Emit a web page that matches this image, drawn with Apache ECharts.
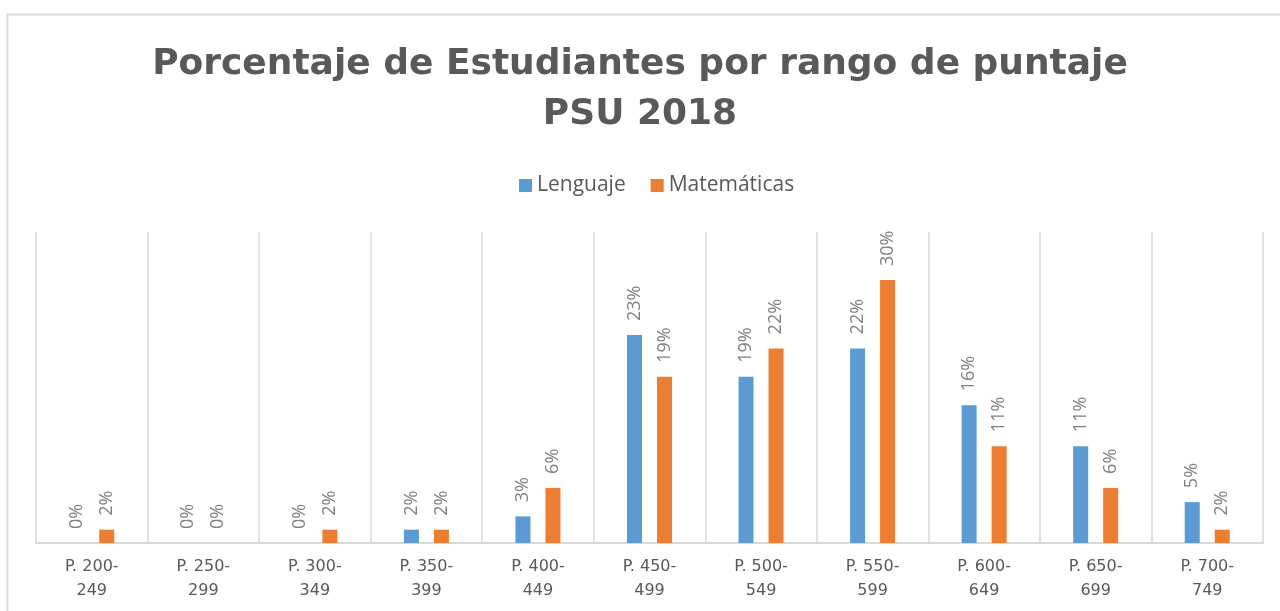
<!DOCTYPE html>
<html>
<head>
<meta charset="utf-8">
<script src="https://cdn.jsdelivr.net/npm/echarts@6/dist/echarts.min.js"></script>
<style>
  html, body { margin: 0; padding: 0; background: #fff; }
  #chart { width: 1280px; height: 611px; }
</style>
</head>
<body>
<div id="chart"></div>
<script>
  // rangos de puntaje
  var categories = ['P. 200-\n249', 'P. 250-\n299', 'P. 300-\n349', 'P. 350-\n399', 'P. 400-\n449',
    'P. 450-\n499', 'P. 500-\n549', 'P. 550-\n599', 'P. 600-\n649', 'P. 650-\n699', 'P. 700-\n749'];
  // porcentajes (se muestran redondeados)
  var lenguaje = [0, 0, 0, 1.5, 3.0, 23.4, 18.7, 21.9, 15.5, 10.9, 4.6];
  var matematicas = [1.5, 0, 1.5, 1.5, 6.2, 18.7, 21.9, 29.6, 10.9, 6.2, 1.5];

  var grey = '#595959';
  var labelCfg = {
    show: true,
    position: 'top',
    rotate: 90,
    align: 'left',
    verticalAlign: 'middle',
    distance: 14,
    color: '#7f7f7f',
    fontSize: 18,
    fontFamily: 'Open Sans',
    formatter: function (p) { return Math.round(p.value) + '%'; }
  };

  var myChart = echarts.init(document.getElementById('chart'));
  var option = {
    animation: false,
    color: ['#5b9bd5', '#ed7d31'],
    title: {
      text: 'Porcentaje de Estudiantes por rango de puntaje\nPSU 2018',
      left: 'center',
      top: 35,
      textStyle: {
        color: grey,
        fontSize: 36,
        fontWeight: 'bold',
        fontFamily: 'DejaVu Sans',
        lineHeight: 50
      }
    },
    legend: {
      data: ['Lenguaje', 'Matemáticas'],
      top: 170,
      left: 514,
      itemWidth: 13,
      itemHeight: 13,
      itemGap: 25,
      icon: 'rect',
      textStyle: { color: grey, fontSize: 21, fontFamily: 'Open Sans' }
    },
    graphic: [{
      type: 'rect',
      shape: { x: 7.5, y: 14.5, width: 1300, height: 700 },
      style: { fill: 'none', stroke: '#d9d9d9', lineWidth: 2 },
      silent: true
    }],
    grid: { left: 36, right: 17, top: 232, bottom: 68 },
    xAxis: {
      type: 'category',
      data: categories,
      axisLine: { lineStyle: { color: '#d9d9d9', width: 2 } },
      axisTick: { show: false },
      splitLine: { show: true, interval: 0, lineStyle: { color: '#d9d9d9', width: 1.5 } },
      axisLabel: {
        color: grey,
        fontSize: 16,
        fontFamily: 'DejaVu Sans',
        lineHeight: 24,
        margin: 12,
        interval: 0
      }
    },
    yAxis: {
      type: 'value',
      min: 0,
      max: 35,
      show: false,
      splitLine: { show: false }
    },
    series: [{
      name: 'Lenguaje',
      type: 'bar',
      data: lenguaje,
      barWidth: 15,
      barGap: '100%',
      label: labelCfg
    }, {
      name: 'Matemáticas',
      type: 'bar',
      data: matematicas,
      barWidth: 15,
      barGap: '100%',
      label: labelCfg
    }]
  };
  myChart.setOption(option);
</script>
</body>
</html>
